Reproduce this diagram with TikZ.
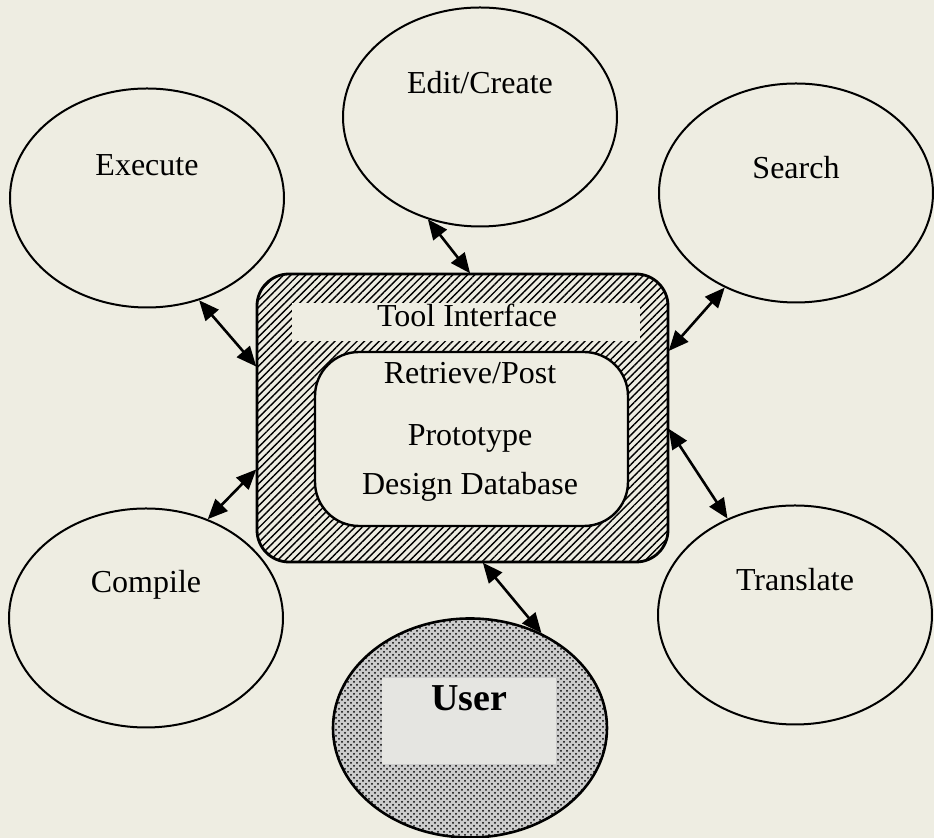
\documentclass[tikz,border=0pt]{standalone}
\usepackage{fontspec}
\setmainfont{Liberation Serif}
\usetikzlibrary{arrows.meta}
\usetikzlibrary{shapes.geometric}
\usetikzlibrary{patterns}
\usetikzlibrary{patterns.meta}

\definecolor{paper}{RGB}{238,237,226}
\definecolor{userpanel}{RGB}{229,229,225}

\tikzset{
  tool/.style={ellipse, draw, line width=1pt, minimum width=137pt, minimum height=109.5pt, inner sep=0pt},
  link/.style={line width=1.3pt, {Triangle[length=10pt,width=8.5pt]}-{Triangle[length=10pt,width=8.5pt]}},
}

\begin{document}
\begin{tikzpicture}[x=0.5pt, y=-0.5pt, font=\fontsize{16}{19}\selectfont]
    \fill[paper] (0,0) rectangle (934,838);
    \useasboundingbox (0,0) rectangle (934,838);
    % tools
    \node[tool, label={[yshift=16.5pt]center:Execute}] (execute) at (147,198) {};
    \node[tool, label={[yshift=17pt]center:Edit/Create}] (edit) at (480,117) {};
    \node[tool, label={[yshift=12.5pt]center:Search}] (search) at (796,193) {};
    \node[tool, label={[yshift=16.5pt]center:Compile}] (compile) at (146,618) {};
    \node[tool, label={[yshift=17.5pt]center:Translate}] (translate) at (795,615) {};
    % user
    \node[tool, line width=1.3pt, preaction={fill=black!20}, pattern=crosshatch dots, pattern color=black] (user) at (470,728) {};
    \fill[userpanel] (382,678) rectangle (556,764);
    \node[font=\fontsize{19}{22}\selectfont\bfseries] (usertxt) at (469,698) {User};
    % database
    \node[draw, line width=1.4pt, rounded corners=16pt, pattern={Lines[angle=45, distance=2.6pt, line width=0.7pt]},
          minimum width=205.5pt, minimum height=144pt] (iface) at (462.5,418) {};
    \node[fill=paper, inner sep=0pt, minimum width=174pt, minimum height=19pt] (bar) at (466,322) {};
    \node (tooltxt) at (467,315) {Tool Interface};
    \node[draw, fill=paper, line width=1.2pt, rounded corners=22pt,
          minimum width=156.5pt, minimum height=87pt] (db) at (471.5,439) {};
    \node (retrieve) at (470,373) {Retrieve/Post};
    \node (proto) at (470,438) {Prototype};
    \node (design) at (470,487) {Design Database};
    % links
    \draw[link] (execute.-63.6) -- (iface.166.3);
    \draw[link] (edit.243.7) -- (iface.87);
    \draw[link] (search.233.3) -- (iface.18.3);
    \draw[link] (translate.125.6) -- (iface.-3.9);
    \draw[link] (compile.58.1) -- (iface.194.2);
    \draw[link] (user.53.6) -- (iface.-82.3);
\end{tikzpicture}
\end{document}
